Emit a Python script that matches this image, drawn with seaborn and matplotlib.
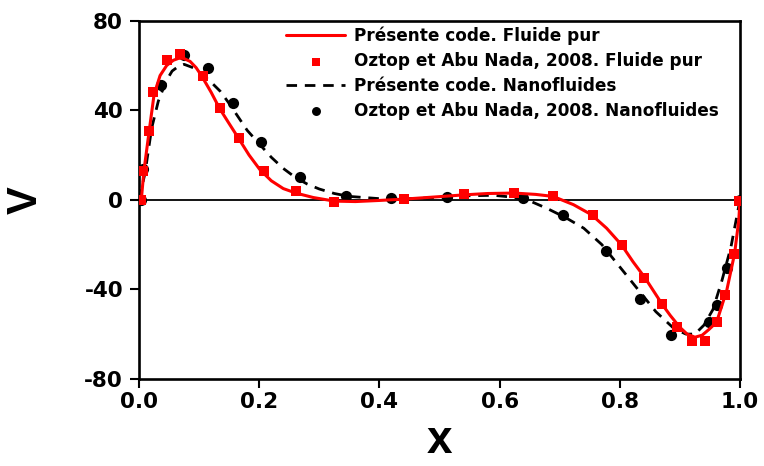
import matplotlib
matplotlib.use("Agg")
import matplotlib.pyplot as plt
import seaborn as sns
import pandas as pd

# ---- data ----
# Présente code. Fluide pur (solid red line)
x_red_line = [0.0, 0.004, 0.008, 0.017, 0.025, 0.035, 0.046, 0.057, 0.066, 0.074, 0.085,
              0.095, 0.104, 0.12, 0.134, 0.15, 0.165, 0.183, 0.201, 0.22, 0.24, 0.261,
              0.29, 0.325, 0.36, 0.4, 0.441, 0.5, 0.541, 0.58, 0.624, 0.66, 0.689,
              0.723, 0.753, 0.778, 0.803, 0.822, 0.842, 0.871, 0.884, 0.9, 0.912, 0.925,
              0.937, 0.948, 0.961, 0.978, 0.991, 0.998, 1.0]
v_red_line = [0.0, 0.7, 12.7, 31.0, 47.0, 55.5, 60.0, 62.3, 63.2, 63.2, 61.8,
              59.0, 55.4, 48.0, 40.8, 34.0, 27.7, 20.0, 13.5, 8.5, 5.0, 3.0,
              1.0, -0.6, -0.8, -0.3, 0.3, 1.4, 2.2, 2.8, 3.0, 2.4, 1.5,
              -2.2, -6.7, -12.7, -20.2, -27.7, -34.9, -46.9, -51.7, -57.0, -60.0, -61.4,
              -60.5, -58.0, -54.7, -40.4, -24.0, -9.0, 0.0]

# Oztop et Abu Nada, 2008. Fluide pur (red squares)
x_red_pts = [0.003, 0.007, 0.017, 0.024, 0.047, 0.068, 0.106, 0.135, 0.166, 0.208,
             0.261, 0.325, 0.441, 0.541, 0.624, 0.689, 0.755, 0.803, 0.841, 0.870,
             0.895, 0.920, 0.941, 0.961, 0.975, 0.990, 0.998]
v_red_pts = [0.0, 12.7, 30.7, 48.0, 62.6, 65.2, 55.1, 40.8, 27.4, 13.0,
             3.7, -0.8, 0.4, 2.5, 3.0, 1.5, -6.7, -20.4, -34.9, -46.7,
             -56.9, -63.2, -63.2, -54.7, -42.4, -24.4, -0.5]

# Présente code. Nanofluides (dashed black line)
x_blk_line = [0.0, 0.01, 0.021, 0.032, 0.045, 0.055, 0.065, 0.075, 0.09, 0.105, 0.12,
              0.135, 0.15, 0.165, 0.18, 0.2, 0.22, 0.24, 0.26, 0.28, 0.3, 0.325,
              0.35, 0.4, 0.45, 0.5, 0.55, 0.59, 0.62, 0.65, 0.68, 0.71, 0.74, 0.77,
              0.8, 0.83, 0.86, 0.89, 0.91, 0.925, 0.94, 0.955, 0.97, 0.985, 1.0]
v_blk_line = [0.0, 12.0, 32.0, 44.0, 53.0, 57.5, 59.5, 60.5, 59.0, 56.0, 52.5,
              48.5, 43.0, 37.0, 31.0, 25.0, 19.0, 14.0, 10.0, 7.0, 4.8, 2.8,
              1.5, 0.5, 0.5, 1.0, 1.8, 2.0, 1.2, -0.5, -4.0, -8.0, -12.7, -20.0,
              -30.0, -40.0, -50.0, -57.5, -60.0, -60.0, -56.0, -49.0, -36.0, -21.0, 0.0]

# Oztop et Abu Nada, 2008. Nanofluides (black circles)
x_blk_pts = [0.003, 0.007, 0.037, 0.075, 0.114, 0.157, 0.203, 0.268, 0.344, 0.420,
             0.513, 0.639, 0.706, 0.777, 0.833, 0.885, 0.948, 0.961, 0.978, 1.0]
v_blk_pts = [0.0, 13.8, 51.4, 64.7, 58.9, 43.1, 25.9, 10.2, 1.8, 0.7,
             1.2, 0.7, -7.0, -22.8, -44.2, -60.2, -54.8, -46.9, -30.3, 0.0]

labels = ["Présente code. Fluide pur",
          "Oztop et Abu Nada, 2008. Fluide pur",
          "Présente code. Nanofluides",
          "Oztop et Abu Nada, 2008. Nanofluides"]
x_ticks = [0.0, 0.2, 0.4, 0.6, 0.8, 1.0]
y_ticks = [-80, -40, 0, 40, 80]

# ---- style ----
sns.set_style("ticks")
plt.rcParams["font.family"] = ["Liberation Sans", "DejaVu Sans"]
plt.rcParams["font.weight"] = "bold"
plt.rcParams["text.color"] = "black"
plt.rcParams["axes.labelcolor"] = "black"
plt.rcParams["xtick.color"] = "black"
plt.rcParams["ytick.color"] = "black"
wide_font = ["DejaVu Sans", "Liberation Sans"]

fig = plt.figure(figsize=(7.64, 4.66), dpi=100)
ax = fig.add_axes([0.182, 0.187, 0.7866, 0.7686])

df_rl = pd.DataFrame({"x": x_red_line, "V": v_red_line})
df_rp = pd.DataFrame({"x": x_red_pts, "V": v_red_pts})
df_bl = pd.DataFrame({"x": x_blk_line, "V": v_blk_line})
df_bp = pd.DataFrame({"x": x_blk_pts, "V": v_blk_pts})

ax.axhline(0, color="black", lw=1.3, zorder=1)

sns.lineplot(data=df_bl, x="x", y="V", ax=ax, color="black", lw=2.0,
             sort=False, estimator=None, label=labels[2], zorder=2)
ax.lines[-1].set_dashes((3.8, 2.8))
sns.scatterplot(data=df_bp, x="x", y="V", ax=ax, color="black", marker="o",
                s=65, edgecolor="black", linewidth=0, label=labels[3], zorder=3)
sns.lineplot(data=df_rl, x="x", y="V", ax=ax, color="#ff0000", lw=2.2,
             sort=False, estimator=None, label=labels[0], zorder=4)
sns.scatterplot(data=df_rp, x="x", y="V", ax=ax, color="#ff0000", marker="s",
                s=60, edgecolor="#ff0000", linewidth=0, label=labels[1], zorder=5)

ax.set_xlim(0, 1.0)
ax.set_ylim(-80, 80)
ax.set_xticks(x_ticks)
ax.set_xticklabels([f"{t:.1f}" for t in x_ticks])
ax.set_yticks(y_ticks)
ax.set_yticklabels([str(t) for t in y_ticks])

for sp in ax.spines.values():
    sp.set_visible(True)
    sp.set_linewidth(1.9)
    sp.set_color("black")
ax.tick_params(axis="both", direction="out", length=6.5, width=1.5,
               colors="black", labelcolor="black")
ax.tick_params(axis="y", pad=5)
ax.tick_params(axis="x", pad=3)
for lab in ax.get_xticklabels() + ax.get_yticklabels():
    lab.set_fontweight("bold")
    lab.set_fontfamily(wide_font)
    lab.set_fontsize(15.5)
    lab.set_color("black")

ax.set_xlabel("x", fontsize=33, fontweight="bold", labelpad=5, color="black")
ax.set_ylabel("V", fontsize=30, fontweight="bold", labelpad=28, color="black")

h, l = ax.get_legend_handles_labels()
hd = dict(zip(l, h))
leg = ax.legend([hd[t] for t in labels], labels, loc="upper left",
                bbox_to_anchor=(0.225, 1.016), frameon=False,
                prop={"weight": "bold", "size": 12.2, "family": wide_font},
                handlelength=3.5, handletextpad=0.5, labelspacing=0.40,
                borderaxespad=0.3, markerscale=0.8)
for t in leg.get_texts():
    t.set_color("black")

fig.savefig("out.png", dpi=100)
